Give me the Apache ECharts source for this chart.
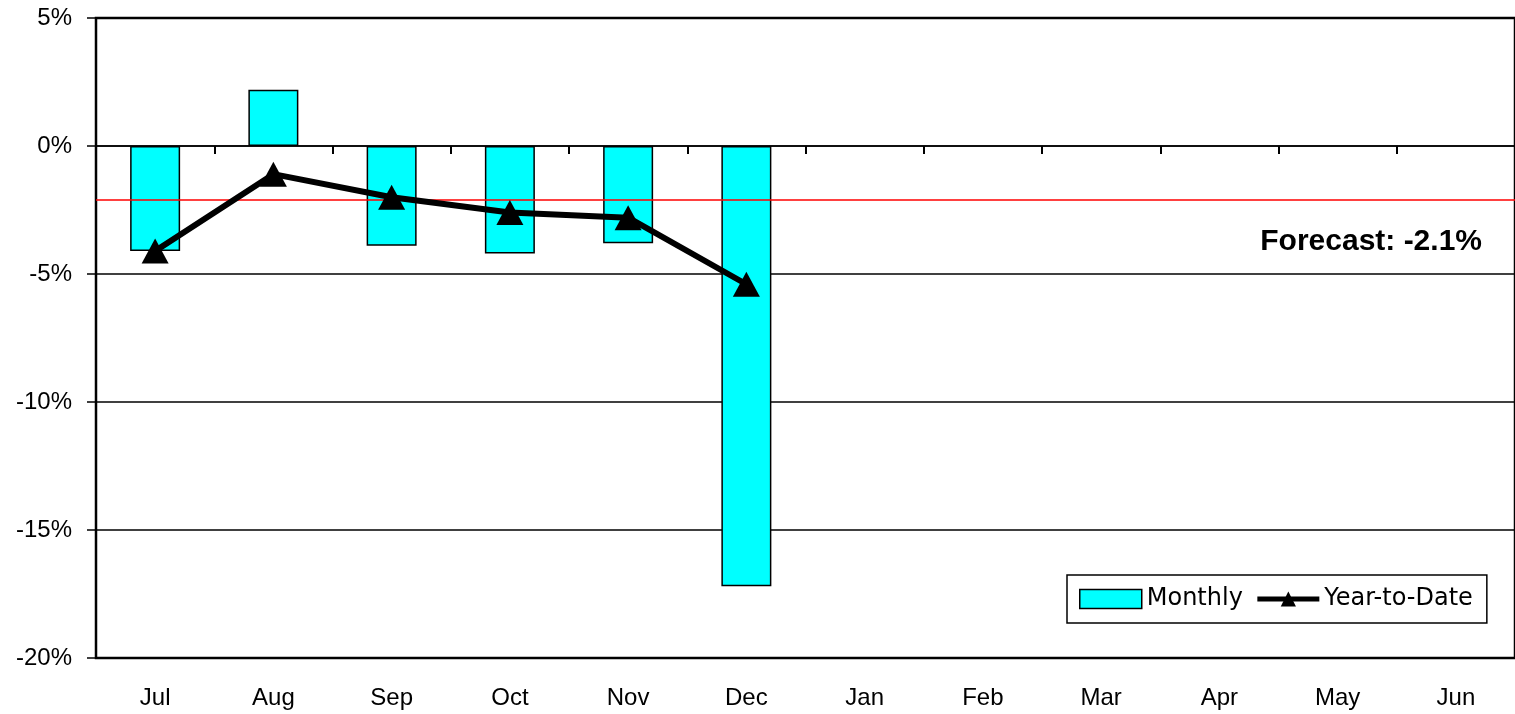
<!DOCTYPE html>
<html>
<head>
<meta charset="utf-8">
<script src="https://cdn.jsdelivr.net/npm/echarts@6/dist/echarts.min.js"></script>
<style>html,body{margin:0;padding:0;background:#fff;}#c{width:1515px;height:714px;}</style>
</head>
<body>
<div id="c"></div>
<script>
const categories = ['Jul','Aug','Sep','Oct','Nov','Dec','Jan','Feb','Mar','Apr','May','Jun'];
const monthly = [-4.1, 2.2, -3.9, -4.2, -3.8, -17.2, null, null, null, null, null, null];
const yearToDate = [-4.1, -1.1, -2.0, -2.6, -2.8, -5.4, null, null, null, null, null, null];
const forecast = -2.1;
const yTicks = {min: -20, max: 5, interval: 5};

const chart = echarts.init(document.getElementById('c'));
const font = 'Liberation Sans, Arial, sans-serif';
chart.setOption({
  animation: false,
  textStyle: {fontFamily: font},
  grid: {left: 96, right: 0, top: 18, bottom: 56, show: true, borderColor: '#000', borderWidth: 2.5, backgroundColor: 'transparent'},
  legend: {
    left: 1067, top: 575,
    backgroundColor: '#fff', borderColor: '#000', borderWidth: 1.5,
    padding: [12, 14, 12, 12],
    itemWidth: 62, itemHeight: 19, itemGap: 12,
    textStyle: {fontSize: 24, color: '#000', fontFamily: 'DejaVu Sans, sans-serif'},
    data: [
      {name: 'Monthly', icon: 'rect', itemStyle: {color: '#00FFFF', borderColor: '#000', borderWidth: 1.5}},
      {name: 'Year-to-Date', lineStyle: {width: 5, color: '#000'}, itemStyle: {color: '#000'}}
    ]
  },
  title: {
    text: 'Forecast: ' + forecast.toFixed(1) + '%',
    right: 28, top: 222,
    textStyle: {fontSize: 30, fontWeight: 'bold', color: '#000', fontFamily: font}
  },
  xAxis: [
    {
      type: 'category', data: categories, position: 'bottom',
      axisLine: {show: false}, axisTick: {show: false},
      axisLabel: {fontSize: 24, color: '#000', margin: 28, fontFamily: font}
    },
    {
      type: 'category', data: categories, position: 'bottom',
      axisLine: {show: true, onZero: true, onZeroAxisIndex: 0, lineStyle: {color: '#000', width: 1.5}},
      axisTick: {show: true, inside: false, length: 8, lineStyle: {color: '#000', width: 2}},
      axisLabel: {show: false}
    }
  ],
  yAxis: {
    type: 'value', min: yTicks.min, max: yTicks.max, interval: yTicks.interval,
    axisLine: {show: true, lineStyle: {color: '#000', width: 2}},
    axisTick: {show: true, length: 9, lineStyle: {color: '#000', width: 1.5}},
    axisLabel: {fontSize: 24, color: '#000', margin: 24, formatter: '{value}%', fontFamily: font},
    splitLine: {show: true, lineStyle: {color: '#000', width: 1.5}}
  },
  series: [
    {
      name: 'Monthly', type: 'bar', data: monthly, barWidth: 50, xAxisIndex: 0,
      itemStyle: {color: '#00FFFF', borderColor: '#000', borderWidth: 1.5},
      markLine: {
        silent: true, symbol: 'none',
        lineStyle: {color: '#FF0000', width: 1.5, type: 'solid'},
        label: {show: false},
        data: [{yAxis: forecast}]
      }
    },
    {
      name: 'Year-to-Date', type: 'line', data: yearToDate, xAxisIndex: 0,
      symbol: 'triangle', symbolSize: [27, 25],
      lineStyle: {color: '#000', width: 6},
      itemStyle: {color: '#000'},
      z: 5
    }
  ]
});
</script>
</body>
</html>
